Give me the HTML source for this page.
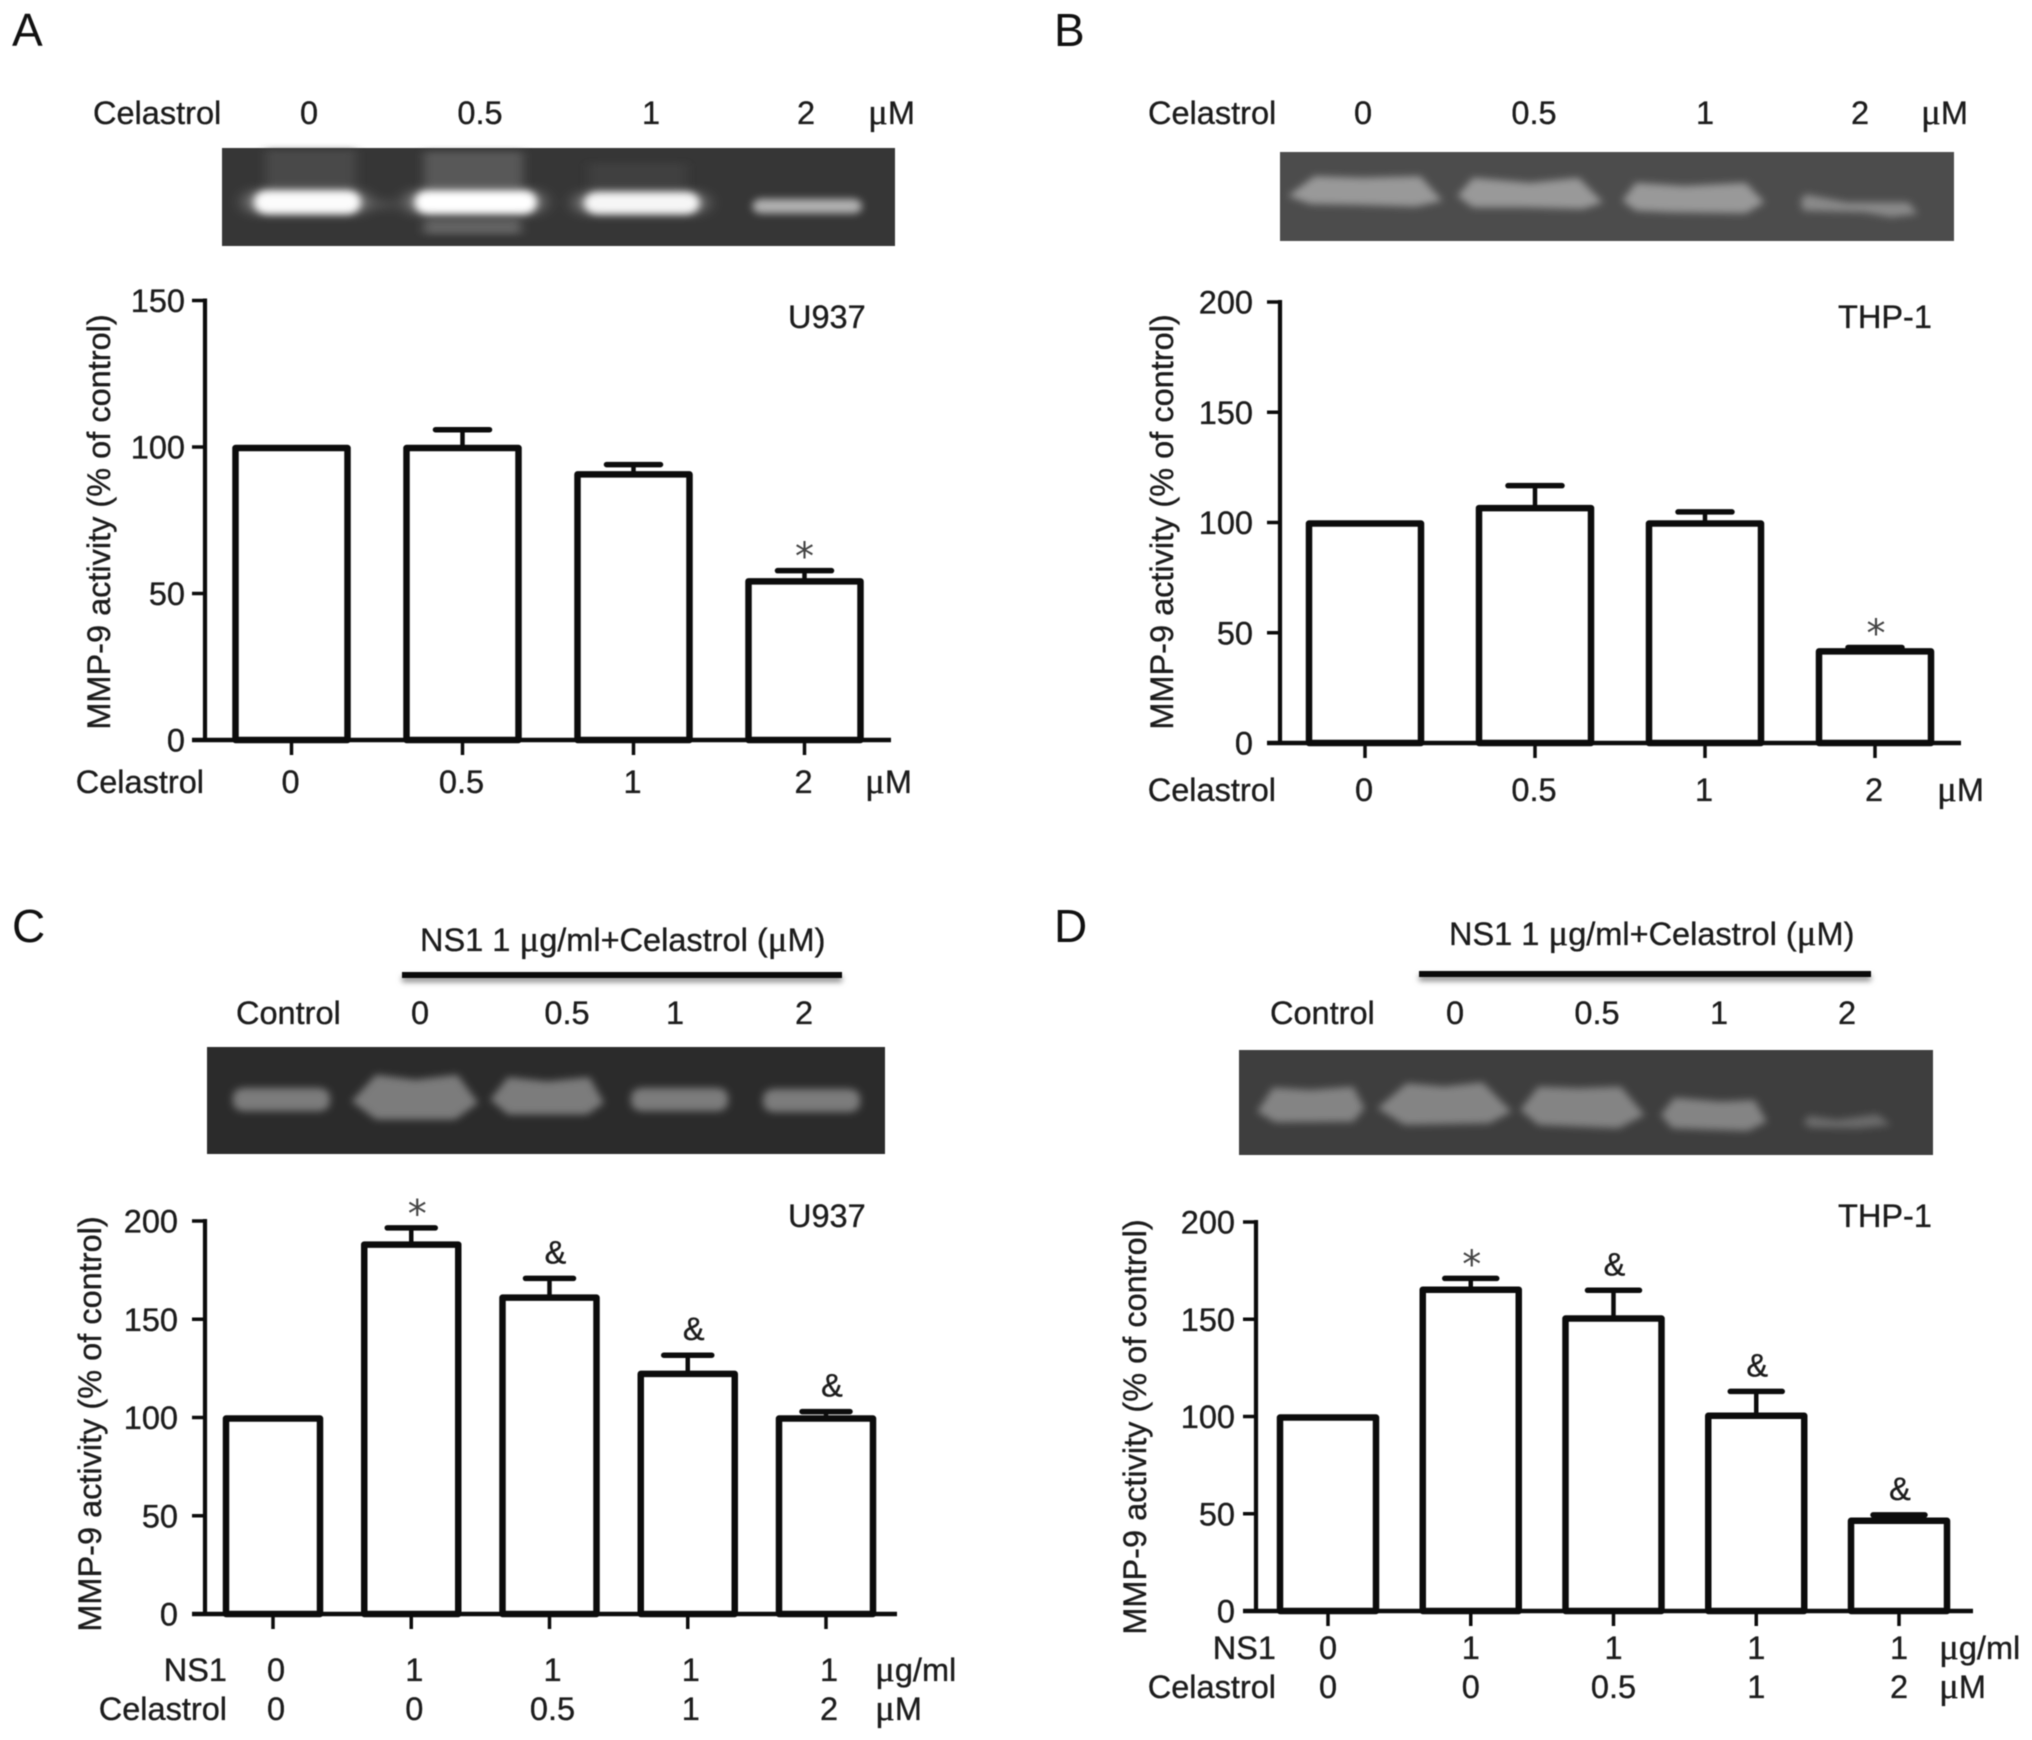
<!DOCTYPE html>
<html lang="en">
<head>
<meta charset="utf-8">
<title>MMP-9 activity panels</title>
<style>
html,body{margin:0;padding:0;background:#fff;width:2032px;height:1740px;overflow:hidden}
#figure{display:block;filter:blur(.6px)}
text{font-family:"Liberation Sans",Arial,sans-serif;font-size:32.5px;fill:#1c1c1c;stroke:#1c1c1c;stroke-width:.35px}
.m{font-family:"Liberation Serif",serif;font-size:37px}
.pl{font-size:46px;fill:#111;stroke:none}
.star{font-family:"DejaVu Sans",sans-serif;font-size:38px;fill:#444;stroke:none}
</style>
</head>
<body>
<svg id="figure" xmlns="http://www.w3.org/2000/svg" width="2032" height="1740" viewBox="0 0 2032 1740">
<defs>
<filter id="b1" x="-40%" y="-80%" width="180%" height="260%"><feGaussianBlur stdDeviation="12 10"/></filter>
<filter id="b2" x="-30%" y="-60%" width="160%" height="220%"><feGaussianBlur stdDeviation="9 11"/></filter>
<filter id="b4" x="-30%" y="-80%" width="160%" height="260%"><feGaussianBlur stdDeviation="20 16"/></filter>
<filter id="b3" x="-10%" y="-300%" width="120%" height="700%"><feGaussianBlur stdDeviation="3"/></filter>
</defs>

<text class="pl" x="12" y="46">A</text>
<text class="pl" x="1054" y="46">B</text>
<text class="pl" x="12" y="942">C</text>
<text class="pl" x="1054" y="942">D</text>

<!-- gel A -->
<g>
<rect x="222" y="148" width="673" height="98" fill="#363636"/>
<g transform="translate(215 140) scale(.44 .331)">
<g filter="url(#b1)" fill="#4a4a4a"><rect x="115" y="30" width="205" height="120"/><rect x="850" y="70" width="220" height="90" fill="#3f3f3f"/></g>
<g filter="url(#b1)" fill="#585858"><rect x="475" y="35" width="225" height="115"/><rect x="475" y="240" width="220" height="45" fill="#626262"/></g>
<g filter="url(#b4)" fill="#8a8a8a">
<rect x="70" y="155" width="275" height="65" rx="30"/>
<rect x="435" y="155" width="310" height="65" rx="30"/>
<rect x="820" y="160" width="295" height="60" rx="30"/>
<rect x="340" y="188" width="70" height="14" fill="#666"/>
</g>
<g filter="url(#b2)">
<rect x="90" y="153" width="240" height="70" rx="30" fill="#fcfcfc"/>
<rect x="455" y="153" width="275" height="70" rx="30" fill="#ffffff"/>
<rect x="840" y="158" width="260" height="65" rx="30" fill="#f6f6f6"/>
<rect x="1222" y="178" width="248" height="44" rx="20" fill="#b0b0b0"/>
</g>
</g>
</g>

<!-- gel B -->
<g>
<rect x="1280" y="152" width="674" height="89" fill="#4c4c4c"/>
<g transform="translate(1275 145) scale(.44 .328)" filter="url(#b2)" fill="#999999">
<polygon points="30,155 90,95 200,100 330,95 380,170 320,188 180,182 80,180"/>
<polygon points="415,155 450,100 580,115 690,100 745,175 700,195 560,190 450,190"/>
<polygon points="790,170 820,115 930,125 1070,115 1112,175 1070,208 900,205 820,200"/>
<polygon points="1195,170 1205,150 1300,175 1440,175 1460,210 1400,220 1340,205 1200,200" fill="#8a8a8a"/>
</g>
</g>

<!-- gel C -->
<g>
<rect x="207" y="1047" width="678" height="107" fill="#2b2b2b"/>
<g transform="translate(200 1040) scale(.44 .331)" filter="url(#b2)" fill="#7c7c7c">
<rect x="75" y="145" width="220" height="70" rx="26"/>
<polygon points="345,185 400,105 490,120 585,105 632,190 580,240 400,240"/>
<polygon points="660,180 700,112 790,125 885,112 918,190 880,225 700,225"/>
<rect x="980" y="145" width="220" height="70" rx="26"/>
<rect x="1280" y="148" width="220" height="70" rx="26"/>
</g>
</g>

<!-- gel D -->
<g>
<rect x="1239" y="1050" width="694" height="105" fill="#3e3e3e"/>
<g transform="translate(1235 1045) scale(.446 .333)" filter="url(#b2)" fill="#848484">
<polygon points="50,200 85,128 170,135 265,125 290,190 265,230 90,232"/>
<polygon points="320,190 385,115 470,125 555,112 620,200 570,235 380,240"/>
<polygon points="640,195 680,125 770,130 865,125 918,210 860,250 680,240"/>
<polygon points="955,210 985,158 1090,170 1165,165 1192,230 1150,258 980,250"/>
<polygon points="1275,235 1285,212 1350,225 1440,208 1470,240 1400,250 1290,248" fill="#6c6c6c"/>
</g>
</g>

<!-- labels above gels -->
<g>
<text x="93" y="124">Celastrol</text>
<text x="309" y="124" text-anchor="middle">0</text>
<text x="480" y="124" text-anchor="middle">0.5</text>
<text x="651" y="124" text-anchor="middle">1</text>
<text x="806" y="124" text-anchor="middle">2</text>
<text x="868" y="124"><tspan class="m">μ</tspan>M</text>
</g>
<g>
<text x="1148" y="124">Celastrol</text>
<text x="1363" y="124" text-anchor="middle">0</text>
<text x="1534" y="124" text-anchor="middle">0.5</text>
<text x="1705" y="124" text-anchor="middle">1</text>
<text x="1860" y="124" text-anchor="middle">2</text>
<text x="1921" y="124"><tspan class="m">μ</tspan>M</text>
</g>
<g>
<text x="420" y="951">NS1 1 <tspan class="m">μ</tspan>g/ml+Celastrol (<tspan class="m">μ</tspan>M)</text>
<rect x="402" y="976" width="440" height="6" fill="#888" filter="url(#b3)"/>
<rect x="402" y="972" width="440" height="6" fill="#0a0a0a"/>
<text x="236" y="1024">Control</text>
<text x="420" y="1024" text-anchor="middle">0</text>
<text x="567" y="1024" text-anchor="middle">0.5</text>
<text x="675" y="1024" text-anchor="middle">1</text>
<text x="804" y="1024" text-anchor="middle">2</text>
</g>
<g>
<text x="1449" y="945">NS1 1 <tspan class="m">μ</tspan>g/ml+Celastrol (<tspan class="m">μ</tspan>M)</text>
<rect x="1419" y="975" width="452" height="6" fill="#888" filter="url(#b3)"/>
<rect x="1419" y="971" width="452" height="6" fill="#0a0a0a"/>
<text x="1270" y="1024">Control</text>
<text x="1455" y="1024" text-anchor="middle">0</text>
<text x="1597" y="1024" text-anchor="middle">0.5</text>
<text x="1719" y="1024" text-anchor="middle">1</text>
<text x="1847" y="1024" text-anchor="middle">2</text>
</g>

<!-- cell-line labels -->
<text x="788" y="328">U937</text>
<text x="1838" y="328">THP-1</text>
<text x="788" y="1227">U937</text>
<text x="1838" y="1227">THP-1</text>

<!-- y-axis titles -->
<text transform="translate(110 522) rotate(-90)" text-anchor="middle">MMP-9 activity (% of control)</text>
<text transform="translate(1173 522) rotate(-90)" text-anchor="middle">MMP-9 activity (% of control)</text>
<text transform="translate(101 1424) rotate(-90)" text-anchor="middle">MMP-9 activity (% of control)</text>
<text transform="translate(1146 1427) rotate(-90)" text-anchor="middle">MMP-9 activity (% of control)</text>

<!-- row headers and units -->
<g>
<text x="204" y="793" text-anchor="end">Celastrol</text>
<text x="865" y="793"><tspan class="m">μ</tspan>M</text>
</g>
<g>
<text x="1276" y="801" text-anchor="end">Celastrol</text>
<text x="1937" y="801"><tspan class="m">μ</tspan>M</text>
</g>
<g>
<text x="227" y="1681" text-anchor="end">NS1</text>
<text x="227" y="1720" text-anchor="end">Celastrol</text>
<text x="875" y="1681"><tspan class="m">μ</tspan>g/ml</text>
<text x="875" y="1720"><tspan class="m">μ</tspan>M</text>
</g>
<g>
<text x="1276" y="1659" text-anchor="end">NS1</text>
<text x="1276" y="1698" text-anchor="end">Celastrol</text>
<text x="1939" y="1659"><tspan class="m">μ</tspan>g/ml</text>
<text x="1939" y="1698"><tspan class="m">μ</tspan>M</text>
</g>

<g id="charts"></g>
</svg>

<script>
// Panel A data
const aCelastrol = ['0', '0.5', '1', '2'];
const aValues = [100, 100, 91, 54.5];
const aErrors = [0, 5.9, 3, 3.3];
const aMarks = ['', '', '', '*'];
const aTicks = [0, 50, 100, 150];

// Panel B data
const bCelastrol = ['0', '0.5', '1', '2'];
const bValues = [100, 107, 100, 42];
const bErrors = [0, 9.7, 4.8, 1.3];
const bMarks = ['', '', '', '*'];
const bTicks = [0, 50, 100, 150, 200];

// Panel C data
const cNs1 = ['0', '1', '1', '1', '1'];
const cCelastrol = ['0', '0', '0.5', '1', '2'];
const cValues = [100, 188.5, 161.5, 122.7, 100];
const cErrors = [0, 8, 9.3, 9, 3];
const cMarks = ['', '*', '&', '&', '&'];
const cTicks = [0, 50, 100, 150, 200];

// Panel D data
const dNs1 = ['0', '1', '1', '1', '1'];
const dCelastrol = ['0', '0', '0.5', '1', '2'];
const dValues = [100, 165.7, 150.9, 100.9, 46.9];
const dErrors = [0, 5.3, 14, 12, 2.5];
const dMarks = ['', '*', '&', '&', '&'];
const dTicks = [0, 50, 100, 150, 200];

const SVGNS = 'http://www.w3.org/2000/svg';
const INK = '#0c0c0c';

function make(parent, tag, attrs, text) {
  const el = document.createElementNS(SVGNS, tag);
  for (const k in attrs) el.setAttribute(k, attrs[k]);
  if (text !== undefined) el.textContent = text;
  parent.appendChild(el);
  return el;
}

function drawPanel(id, d, g) {
  const root = document.getElementById('charts');
  const panel = make(root, 'g', {});
  
  

  const maxTick = d.ticks[d.ticks.length - 1];
  const yScale = v => g.y0 - (v / maxTick) * (g.y0 - g.yTop);
  const xScale = i => g.x0 + i * g.step;

  // bars and error bars
  d.values.forEach((v, i) => {
    const x = xScale(i), y = yScale(v) + 1;
    const bar = make(panel, 'rect', {x: x - g.barW / 2, y: y, width: g.barW, height: g.y0 - y, fill: '#fff', stroke: INK, 'stroke-width': g.barS, 'stroke-linejoin': 'round'});
    
    
    if (d.errors[i] > 0) {
      const yE = yScale(v + d.errors[i]);
      const err = make(panel, 'g', {stroke: INK, fill: 'none'});
      
      
      make(err, 'line', {x1: x, x2: x, y1: y, y2: yE, 'stroke-width': 4.5});
      make(err, 'line', {x1: x - g.capW / 2, x2: x + g.capW / 2, y1: yE, y2: yE, 'stroke-width': 5.5, 'stroke-linecap': 'round'});
    }
    if (d.marks[i]) {
      const top = yScale(v + d.errors[i]);
      const isStar = d.marks[i] === '*';
      const mark = make(panel, 'text', {x: x + g.markDx, y: isStar ? top - 1 : top - 15, 'text-anchor': 'middle', class: isStar ? 'star' : ''}, d.marks[i]);
      
      
    }
  });

  // y axis
  const yAxis = make(panel, 'g', {stroke: INK});
  
  
  make(yAxis, 'line', {x1: g.xAxis, x2: g.xAxis, y1: g.yTop - 2, y2: g.y0 + 2, 'stroke-width': 4.2});
  d.ticks.forEach(t => {
    make(yAxis, 'line', {x1: g.xAxis - 13, x2: g.xAxis, y1: yScale(t), y2: yScale(t), 'stroke-width': 3.5});
    const lab = make(panel, 'text', {x: g.xAxis - 13 - g.labelGap, y: yScale(t) + 11.5, 'text-anchor': 'end'}, String(t));
    
    
  });

  // x axis
  const xAxis = make(panel, 'g', {stroke: INK});
  
  
  make(xAxis, 'line', {x1: g.xAxis - 13, x2: g.xEnd, y1: g.y0, y2: g.y0, 'stroke-width': 4.5});
  d.values.forEach((v, i) => {
    make(xAxis, 'line', {x1: xScale(i), x2: xScale(i), y1: g.y0, y2: g.y0 + 15, 'stroke-width': 3.5});
  });

  // x rows
  d.rows.forEach((row, r) => {
    row.forEach((label, i) => {
      const t = make(panel, 'text', {x: xScale(i) + g.rowDx, y: g.rowY[r] + 12, 'text-anchor': 'middle'}, label);
      
      
    });
  });
}

drawPanel('a', {values: aValues, errors: aErrors, marks: aMarks, ticks: aTicks, rows: [aCelastrol]},
  {x0: 291.5, step: 171, barW: 112, barS: 6.5, capW: 54, xAxis: 205, xEnd: 891, y0: 740, yTop: 300.5, labelGap: 7, rowY: [781], rowDx: -1, markDx: 0});
drawPanel('b', {values: bValues, errors: bErrors, marks: bMarks, ticks: bTicks, rows: [bCelastrol]},
  {x0: 1365, step: 170, barW: 112, barS: 6.5, capW: 54, xAxis: 1280, xEnd: 1961, y0: 743, yTop: 302, labelGap: 14, rowY: [789], rowDx: -1, markDx: 1});
drawPanel('c', {values: cValues, errors: cErrors, marks: cMarks, ticks: cTicks, rows: [cNs1, cCelastrol]},
  {x0: 273, step: 138.25, barW: 94, barS: 6.5, capW: 48, xAxis: 205, xEnd: 897, y0: 1614, yTop: 1221, labelGap: 14, rowY: [1669, 1708], rowDx: 3, markDx: 6});
drawPanel('d', {values: dValues, errors: dErrors, marks: dMarks, ticks: dTicks, rows: [dNs1, dCelastrol]},
  {x0: 1328, step: 142.75, barW: 96, barS: 6.5, capW: 52, xAxis: 1256, xEnd: 1973, y0: 1611, yTop: 1222, labelGap: 8, rowY: [1647, 1686], rowDx: 0, markDx: 1});
</script>
</body>
</html>
